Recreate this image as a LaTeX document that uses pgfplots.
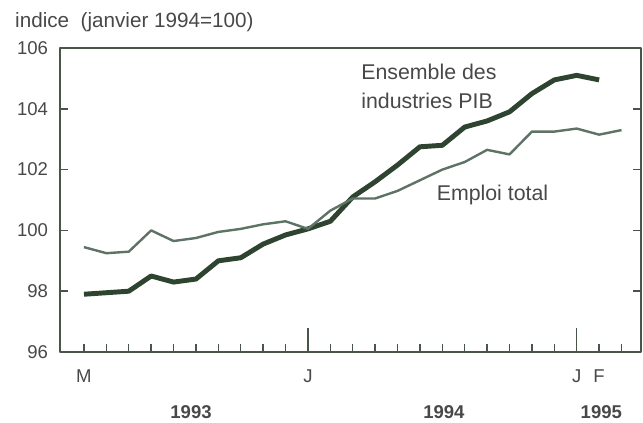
\documentclass[border=0pt]{standalone}
\usepackage{fontspec}
\setmainfont{Liberation Sans}
\usepackage{pgfplots}
\pgfplotsset{compat=1.18}
\definecolor{pibc}{RGB}{46,68,48}
\definecolor{empc}{RGB}{94,114,102}
\definecolor{axc}{RGB}{72,86,74}
\definecolor{txtc}{RGB}{72,72,72}
\begin{document}
\begin{tikzpicture}
\useasboundingbox (-45pt,-52.5pt) rectangle (437.25pt,264pt);
\begin{axis}[
  scale only axis,
  width=435.75pt, height=228pt,
  xmin=-1.07, xmax=24.87,
  ymin=96, ymax=106,
  axis line style={axc, line width=1.3pt},
  tick style={axc, line width=1.1pt},
  tick align=inside,
  xtick pos=left,
  ytick pos=both,
  xtick={0,...,24},
  xticklabels={M,,,,,,,,,,J,,,,,,,,,,,,J,F,},
  major tick length=6pt,
  extra x ticks={10,22},
  extra x tick labels={},
  extra x tick style={major tick length=18pt},
  ytick={96,98,...,106},
  every tick label/.append style={font=\fontsize{13.9}{16}\selectfont, text=txtc},
  /pgf/number format/assume math mode=true,
  xticklabel style={yshift=-10pt},
  yticklabel style={xshift=-5.5pt},
  clip=false,
  line join=round,
]
\addplot[pibc, line width=3.7pt] coordinates {
(0,97.9) (1,97.95) (2,98.0) (3,98.5) (4,98.3) (5,98.4) (6,99.0) (7,99.1)
(8,99.55) (9,99.85) (10,100.05) (11,100.3) (12,101.1) (13,101.6) (14,102.15)
(15,102.75) (16,102.8) (17,103.4) (18,103.6) (19,103.9) (20,104.5) (21,104.95)
(22,105.1) (23,104.95)
};
\addplot[empc, line width=1.8pt] coordinates {
(0,99.45) (1,99.25) (2,99.3) (3,100.0) (4,99.65) (5,99.75) (6,99.95) (7,100.05)
(8,100.2) (9,100.3) (10,100.05) (11,100.65) (12,101.05) (13,101.05) (14,101.3)
(15,101.65) (16,102.0) (17,102.25) (18,102.65) (19,102.5) (20,103.25) (21,103.25)
(22,103.35) (23,103.15) (24,103.3)
};
\node[anchor=base west, text=txtc, font=\fontsize{16}{18}\selectfont, inner sep=0pt] at (axis cs:12.37,104.95) {Ensemble des};
\node[anchor=base west, text=txtc, font=\fontsize{16}{18}\selectfont, inner sep=0pt] at (axis cs:12.37,104.02) {industries PIB};
\node[anchor=base west, text=txtc, font=\fontsize{16}{18}\selectfont, inner sep=0pt] at (axis cs:15.74,101.0) {Emploi total};
\node[anchor=base west, text=txtc, font=\fontsize{15.5}{18}\selectfont, inner sep=0pt] at (axis cs:-3.08,106.69) {indice\ \ (janvier 1994=100)};
\node[anchor=base, text=txtc, font=\fontsize{13.9}{16}\bfseries, inner sep=0pt] at (axis cs:4.78,93.8) {1993};
\node[anchor=base, text=txtc, font=\fontsize{13.9}{16}\bfseries, inner sep=0pt] at (axis cs:16.07,93.8) {1994};
\node[anchor=base, text=txtc, font=\fontsize{13.9}{16}\bfseries, inner sep=0pt] at (axis cs:23.1,93.8) {1995};
\end{axis}
\end{tikzpicture}
\end{document}
